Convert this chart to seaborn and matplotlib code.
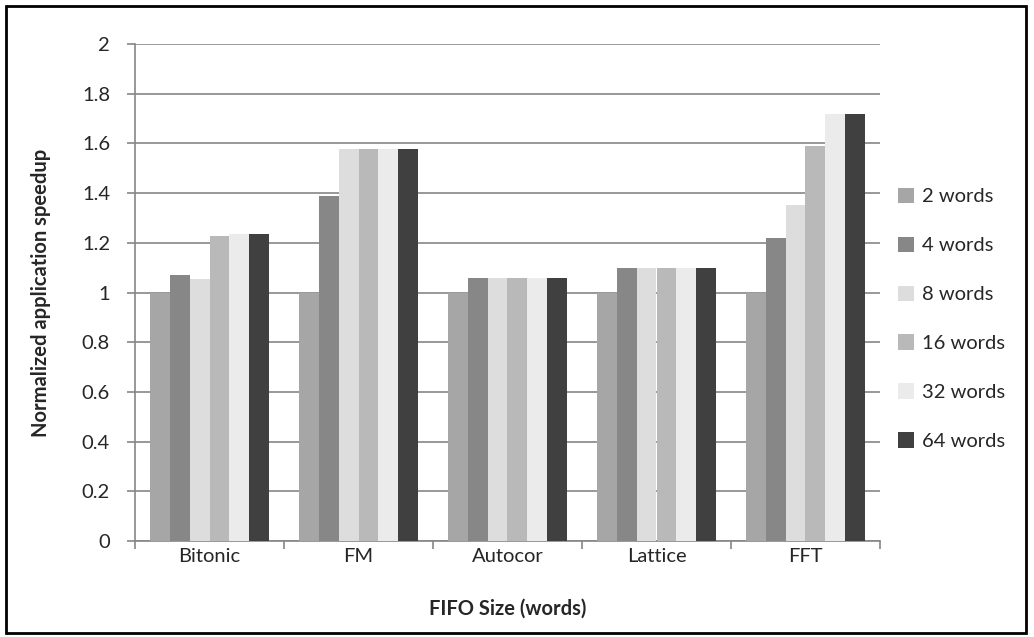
import matplotlib
matplotlib.use("Agg")
import matplotlib.pyplot as plt
import seaborn as sns
import pandas as pd
from matplotlib.patches import Rectangle

categories = ["Bitonic", "FM", "Autocor", "Lattice", "FFT"]
series = ["2 words", "4 words", "8 words", "16 words", "32 words", "64 words"]
v2 = [1.0, 1.0, 1.0, 1.0, 1.0]
v4 = [1.07, 1.39, 1.058, 1.10, 1.22]
v8 = [1.055, 1.577, 1.058, 1.10, 1.352]
v16 = [1.227, 1.577, 1.058, 1.10, 1.59]
v32 = [1.235, 1.577, 1.058, 1.10, 1.72]
v64 = [1.235, 1.577, 1.058, 1.10, 1.72]
colors = ["#A6A6A6", "#878787", "#DDDDDD", "#B9B9B9", "#EBEBEB", "#404040"]

rows = []
for s, vals in zip(series, [v2, v4, v8, v16, v32, v64]):
    for c, v in zip(categories, vals):
        rows.append({"cat": c, "series": s, "val": v})
df = pd.DataFrame(rows)

sns.set_theme(style="white")
plt.rcParams["font.family"] = ["Lato", "DejaVu Sans"]

fig = plt.figure(figsize=(10.34, 6.37), dpi=100)
ax = fig.add_axes([135/1034, 1-541/637, (880-135)/1034, (541-44)/637])

sns.barplot(data=df, x="cat", y="val", hue="series", order=categories,
            hue_order=series, palette=colors, width=0.8, gap=0,
            saturation=1, ax=ax, edgecolor="none", linewidth=0, zorder=3)

fs = 14.5
ax.set_ylim(0, 2)
ax.set_yticks([i * 0.2 for i in range(11)])
ax.set_yticklabels(["0", "0.2", "0.4", "0.6", "0.8", "1", "1.2", "1.4", "1.6", "1.8", "2"], fontsize=fs)
ax.yaxis.grid(True, color="#868686", linewidth=1.2, zorder=0)
ax.set_axisbelow(True)
ax.set_xlim(-0.5, 4.5)
ax.tick_params(axis="x", which="major", length=0, labelsize=fs, pad=5)
ax.set_xticks([i - 0.5 for i in range(6)], minor=True)
ax.tick_params(axis="x", which="minor", length=6, color="#868686", width=1.2, direction="out", bottom=True)
ax.tick_params(axis="y", length=6, color="#868686", width=1.2, direction="out", left=True, labelsize=fs, pad=12)

for side in ["top", "right"]:
    ax.spines[side].set_visible(False)
for side in ["left", "bottom"]:
    ax.spines[side].set_color("#868686")
    ax.spines[side].set_linewidth(1.2)

ax.set_xlabel("FIFO Size (words)", fontsize=fs, fontweight="bold", labelpad=24)
ax.set_ylabel("Normalized application speedup", fontsize=fs, fontweight="bold", labelpad=22)

handles, labels = ax.get_legend_handles_labels()
ax.legend(handles, labels, loc="center left", bbox_to_anchor=(1.0, 0.447),
          frameon=False, fontsize=fs, handlelength=0.8, handleheight=0.8,
          labelspacing=1.55, handletextpad=0.4)

fig.patches.append(Rectangle((6/1034, 4/637), 1020/1034, 627/637, transform=fig.transFigure,
                             fill=False, edgecolor="black", linewidth=2))

fig.savefig("out.png", dpi=100)
